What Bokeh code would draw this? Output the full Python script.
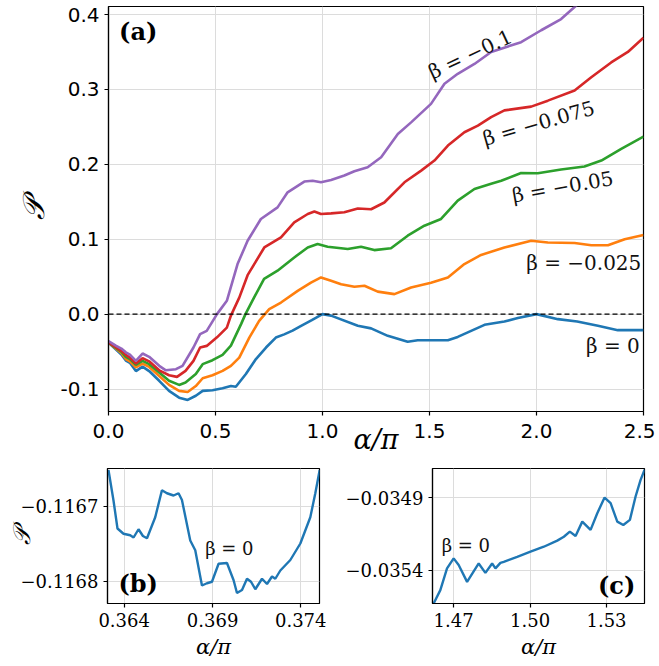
import numpy as np
from bokeh.plotting import figure
from bokeh.models import FixedTicker, CustomJSTickFormatter, PrintfTickFormatter, Span, Range1d
from bokeh.layouts import column, row
from bokeh.embed import file_html
from bokeh.resources import INLINE
from bokeh.core.properties import value

# ---------------- data ----------------
b0_x = [0, 0.034, 0.06, 0.081, 0.1, 0.128, 0.159, 0.19, 0.237, 0.283, 0.33, 0.37, 0.408, 0.44,
        0.486, 0.533, 0.572, 0.595, 0.642, 0.689, 0.736, 0.782, 0.821, 0.86, 0.90, 0.95, 1.0,
        1.04, 1.165, 1.227, 1.305, 1.398, 1.445, 1.586, 1.632, 1.757, 1.85, 1.913, 2.0, 2.10,
        2.19, 2.287, 2.38, 2.5]
b0_y = [-0.038, -0.047, -0.054, -0.062, -0.065, -0.076, -0.070, -0.076, -0.089, -0.1025, -0.1115,
        -0.1146, -0.109, -0.1025, -0.1016, -0.099, -0.096, -0.097, -0.080, -0.060, -0.0446, -0.0313,
        -0.027, -0.022, -0.0156, -0.008, 0.0, -0.002, -0.0156, -0.019, -0.029, -0.037, -0.0348,
        -0.0348, -0.0304, -0.0143, -0.0099, -0.0053, 0.0, -0.0067, -0.0099, -0.0156, -0.0214, -0.0214]

b025_x = [0, 0.034, 0.06, 0.081, 0.1, 0.128, 0.159, 0.19, 0.237, 0.283, 0.33, 0.37, 0.408, 0.44,
          0.486, 0.533, 0.572, 0.611, 0.658, 0.704, 0.751, 0.806, 0.884, 0.946, 0.993, 1.04, 1.087,
          1.149, 1.196, 1.258, 1.336, 1.414, 1.507, 1.586, 1.663, 1.741, 1.85, 1.975, 2.053, 2.178,
          2.256, 2.334, 2.412, 2.5]
b025_y = [-0.038, -0.046, -0.052, -0.060, -0.063, -0.071, -0.066, -0.0705, -0.0825, -0.0945, -0.1025,
          -0.104, -0.096, -0.0856, -0.0816, -0.0758, -0.069, -0.058, -0.0313, -0.009, 0.0067, 0.0155,
          0.031, 0.042, 0.049, 0.0445, 0.040, 0.0365, 0.0378, 0.030, 0.0267, 0.0356, 0.042, 0.049,
          0.0668, 0.079, 0.089, 0.098, 0.0957, 0.0949, 0.092, 0.092, 0.100, 0.1056]

b05_x = [0, 0.034, 0.06, 0.081, 0.1, 0.128, 0.159, 0.19, 0.237, 0.283, 0.33, 0.36, 0.408, 0.44,
         0.486, 0.533, 0.572, 0.62, 0.64, 0.68, 0.727, 0.79, 0.868, 0.931, 0.977, 1.024, 1.087,
         1.118, 1.18, 1.242, 1.32, 1.398, 1.476, 1.554, 1.632, 1.71, 1.788, 1.835, 1.928, 2.006,
         2.115, 2.224, 2.303, 2.396, 2.5]
b05_y = [-0.038, -0.045, -0.05, -0.057, -0.06, -0.0678, -0.0624, -0.0668, -0.078, -0.089, -0.0945,
         -0.0914, -0.080, -0.0668, -0.0615, -0.0544, -0.042, -0.013, 0.0, 0.022, 0.047, 0.058, 0.0757,
         0.089, 0.0936, 0.090, 0.088, 0.087, 0.090, 0.0855, 0.088, 0.1047, 0.118, 0.127, 0.1515,
         0.167, 0.174, 0.178, 0.1885, 0.188, 0.193, 0.197, 0.205, 0.2206, 0.237]

b075_x = [0, 0.034, 0.06, 0.081, 0.1, 0.128, 0.159, 0.19, 0.237, 0.283, 0.32, 0.36, 0.397, 0.428,
          0.459, 0.507, 0.553, 0.572, 0.611, 0.65, 0.728, 0.806, 0.868, 0.931, 0.962, 0.993, 1.04,
          1.102, 1.165, 1.227, 1.289, 1.383, 1.461, 1.523, 1.586, 1.663, 1.726, 1.788, 1.85, 1.975,
          2.053, 2.178, 2.256, 2.349, 2.427, 2.5]
b075_y = [-0.038, -0.044, -0.049, -0.0544, -0.058, -0.066, -0.0588, -0.063, -0.075, -0.0816, -0.0838,
          -0.0758, -0.0624, -0.0446, -0.0424, -0.031, -0.018, -0.002, 0.022, 0.052, 0.089, 0.1025,
          0.1225, 0.1337, 0.137, 0.1337, 0.1345, 0.136, 0.141, 0.140, 0.149, 0.176, 0.1916, 0.205,
          0.225, 0.2428, 0.2517, 0.263, 0.272, 0.277, 0.285, 0.2985, 0.3163, 0.336, 0.350, 0.369]

b1_x = [0, 0.034, 0.06, 0.081, 0.1, 0.128, 0.159, 0.19, 0.237, 0.268, 0.315, 0.346, 0.397, 0.428,
        0.459, 0.507, 0.553, 0.603, 0.65, 0.712, 0.79, 0.837, 0.915, 0.954, 0.993, 1.04, 1.102,
        1.149, 1.211, 1.274, 1.352, 1.414, 1.507, 1.57, 1.632, 1.71, 1.788, 1.928, 2.022, 2.115,
        2.178, 2.3, 2.5]
b1_y = [-0.036, -0.042, -0.046, -0.051, -0.054, -0.0624, -0.0526, -0.057, -0.069, -0.075, -0.0735,
        -0.069, -0.0446, -0.0267, -0.0223, 0.0, 0.0178, 0.0668, 0.098, 0.127, 0.1425, 0.1626, 0.177,
        0.178, 0.176, 0.179, 0.185, 0.1907, 0.196, 0.2094, 0.2406, 0.256, 0.2807, 0.3075, 0.3209,
        0.334, 0.350, 0.363, 0.379, 0.394, 0.410, 0.44, 0.48]

series_labels = ["β = 0", "β = −0.025", "β = −0.05", "β = −0.075", "β = −0.1"]
series_colors = ["#1f77b4", "#ff7f0e", "#2ca02c", "#d62728", "#9467bd"]

main_xticks = [0.0, 0.5, 1.0, 1.5, 2.0, 2.5]
main_yticks = [-0.1, 0.0, 0.1, 0.2, 0.3, 0.4]

# inset (b): beta = 0 near alpha/pi ~ 0.369
zb_x = [0.36311, 0.36339, 0.36362, 0.36396, 0.36434, 0.36453, 0.36481, 0.36506, 0.36529, 0.365755,
        0.366135, 0.366418, 0.366792, 0.367075, 0.367267, 0.367737, 0.36802, 0.3684, 0.368683,
        0.368966, 0.36934, 0.369815, 0.37019, 0.37038, 0.370665, 0.370948, 0.371175, 0.371418,
        0.371797, 0.37208, 0.372363, 0.37255, 0.372834, 0.3734, 0.373966, 0.37453, 0.374813, 0.37506]
zb_y = [-0.116652, -0.116692, -0.11673, -0.116737, -0.116739, -0.116742, -0.116731, -0.11674, -0.116743,
        -0.116715, -0.116679, -0.116683, -0.116686, -0.116683, -0.116692, -0.116746, -0.116759,
        -0.116806, -0.116803, -0.116801, -0.116777, -0.116776, -0.116799, -0.116816, -0.116812,
        -0.116797, -0.116801, -0.116811, -0.116797, -0.116804, -0.116794, -0.116797, -0.116786,
        -0.116772, -0.11675, -0.116715, -0.116683, -0.116652]
zb_xticks = [0.364, 0.369, 0.374]
zb_yticks = [-0.1168, -0.1167]

# inset (c): beta = 0 near alpha/pi ~ 1.5
zc_x = [1.46214, 1.46477, 1.4674, 1.47, 1.47197, 1.47527, 1.47983, 1.48246, 1.4851, 1.4864, 1.48836,
        1.48966, 1.49493, 1.50016, 1.50539, 1.51066, 1.51325, 1.5156, 1.51785, 1.52048, 1.52374,
        1.52637, 1.52923, 1.5316, 1.53422, 1.53658, 1.53917, 1.5414, 1.54337, 1.54494]
zc_y = [-0.03563, -0.035538, -0.035388, -0.035319, -0.035365, -0.035481, -0.035354, -0.035419,
        -0.035354, -0.035388, -0.03535, -0.035343, -0.035308, -0.035273, -0.035239, -0.035197,
        -0.03517, -0.035135, -0.035165, -0.035066, -0.035123, -0.035008, -0.0349, -0.034939,
        -0.035066, -0.035089, -0.035054, -0.034893, -0.034778, -0.034708]
zc_xticks = [1.47, 1.50, 1.53]
zc_yticks = [-0.0354, -0.0349]

# ---------------- styling helpers ----------------
SERIF = "DejaVu Serif"
SANS = "DejaVu Sans"
PLABEL = "\U0001D4AB"  # script P
XLABEL = "α/π"


def style(p, tick_font, tick_size):
    p.outline_line_color = "black"
    p.outline_line_width = 1.2
    p.outline_line_alpha = 1
    p.background_fill_color = "white"
    p.border_fill_color = "white"
    for ax in (p.xaxis[0], p.yaxis[0]):
        ax.major_tick_out = 4
        ax.major_tick_in = 0
        ax.minor_tick_line_color = None
        ax.axis_line_color = "black"
        ax.axis_line_width = 1.2
        ax.major_tick_line_color = "black"
        ax.major_tick_line_width = 1.2
        ax.major_label_text_font = tick_font
        ax.major_label_text_font_size = tick_size
        ax.major_label_text_color = "black"
        ax.major_label_standoff = 5
        ax.axis_label_text_font = SERIF
        ax.axis_label_text_font_style = "italic"
        ax.axis_label_text_color = "black"
    p.grid.grid_line_color = "#dcdcdc"
    p.grid.grid_line_width = 1


# ---------------- main panel (a) ----------------
main = figure(width=655, height=461, x_range=Range1d(0, 2.5), y_range=Range1d(-0.130, 0.4107),
              output_backend="svg", toolbar_location=None,
              min_border_left=108, min_border_right=12, min_border_top=6, min_border_bottom=50)
style(main, SANS, "20px")
main.xaxis.ticker = FixedTicker(ticks=main_xticks)
main.yaxis.ticker = FixedTicker(ticks=main_yticks)
main.xaxis.formatter = PrintfTickFormatter(format="%.1f")
main.yaxis.formatter = PrintfTickFormatter(format="%.1f")
main.xaxis.major_label_standoff = 8
main.xaxis.axis_label = XLABEL
main.xaxis.axis_label_text_font_size = "27px"
main.xaxis.axis_label_standoff = -17
main.yaxis.axis_label = PLABEL
main.yaxis.axis_label_text_font_size = "30px"
main.yaxis.axis_label_standoff = 6

main.add_layout(Span(location=0, dimension="width", line_color="black", line_dash="5 3",
                     line_width=1.4))

for xs, ys, c in zip([b0_x, b025_x, b05_x, b075_x, b1_x], [b0_y, b025_y, b05_y, b075_y, b1_y],
                     series_colors):
    main.line(xs, ys, line_color=c, line_width=2.6)

lab_x = [2.357, 2.221, 2.122, 2.010, 1.690]
lab_y = [-0.0424, 0.0686, 0.170, 0.255, 0.347]
lab_ang = [0, 0, 10, 16, 25]
for tx, ty, ta, tt in zip(lab_x, lab_y, lab_ang, series_labels):
    main.text(x=[tx], y=[ty], text=[tt], angle=[np.deg2rad(ta)], text_font=value(SERIF),
              text_font_size="20px", text_align="center", text_baseline="middle", text_color="#111111")

main.text(x=[0.139], y=[0.3767], text=["(a)"], text_font=value(SERIF), text_font_style="bold",
          text_font_size="24px", text_align="center", text_baseline="middle", text_color="black")

# ---------------- inset (b) ----------------
fb = figure(width=326, height=202, x_range=Range1d(0.363055, 0.37505), y_range=Range1d(-0.11683, -0.11665),
            output_backend="svg", toolbar_location=None,
            min_border_left=107, min_border_right=7, min_border_top=7, min_border_bottom=60)
style(fb, SERIF, "18px")
fb.xaxis.ticker = FixedTicker(ticks=zb_xticks)
fb.yaxis.ticker = FixedTicker(ticks=zb_yticks)
fb.xaxis.formatter = CustomJSTickFormatter(code="return tick.toFixed(3);")
fb.yaxis.formatter = CustomJSTickFormatter(code="return (tick < 0 ? '\u2212' : '') + Math.abs(tick).toFixed(4);")
fb.xaxis.major_label_standoff = 5
fb.xaxis.axis_label = XLABEL
fb.xaxis.axis_label_text_font_size = "21px"
fb.xaxis.axis_label_standoff = 5
fb.yaxis.axis_label = PLABEL
fb.yaxis.axis_label_text_font_size = "24px"
fb.yaxis.axis_label_standoff = -19
fb.line(zb_x, zb_y, line_color=series_colors[0], line_width=2.4)
fb.text(x=[0.36995], y=[-0.116756], text=["β = 0"], text_font=value(SERIF), text_font_size="18px",
        text_align="center", text_baseline="middle", text_color="#111111")
fb.text(x=[0.36479], y=[-0.116803], text=["(b)"], text_font=value(SERIF), text_font_style="bold",
        text_font_size="24px", text_align="center", text_baseline="middle", text_color="black")

# ---------------- inset (c) ----------------
fc = figure(width=329, height=202, x_range=Range1d(1.4617, 1.5449), y_range=Range1d(-0.03563, -0.03470),
            output_backend="svg", toolbar_location=None,
            min_border_left=106, min_border_right=11, min_border_top=7, min_border_bottom=60)
style(fc, SERIF, "18px")
fc.xaxis.ticker = FixedTicker(ticks=zc_xticks)
fc.yaxis.ticker = FixedTicker(ticks=zc_yticks)
fc.xaxis.formatter = CustomJSTickFormatter(code="return tick.toFixed(2);")
fc.yaxis.formatter = CustomJSTickFormatter(code="return (tick < 0 ? '\u2212' : '') + Math.abs(tick).toFixed(4);")
fc.xaxis.major_label_standoff = 5
fc.xaxis.axis_label = XLABEL
fc.xaxis.axis_label_text_font_size = "21px"
fc.xaxis.axis_label_standoff = 5
fc.line(zc_x, zc_y, line_color=series_colors[0], line_width=2.4)
fc.text(x=[1.4748], y=[-0.035227], text=["β = 0"], text_font=value(SERIF), text_font_size="18px",
        text_align="center", text_baseline="middle", text_color="#111111")
fc.text(x=[1.53394], y=[-0.035504], text=["(c)"], text_font=value(SERIF), text_font_style="bold",
        text_font_size="24px", text_align="center", text_baseline="middle", text_color="black")

layout = column(main, row(fb, fc, spacing=0), spacing=0)
open("out.html", "w").write(file_html(layout, INLINE))
